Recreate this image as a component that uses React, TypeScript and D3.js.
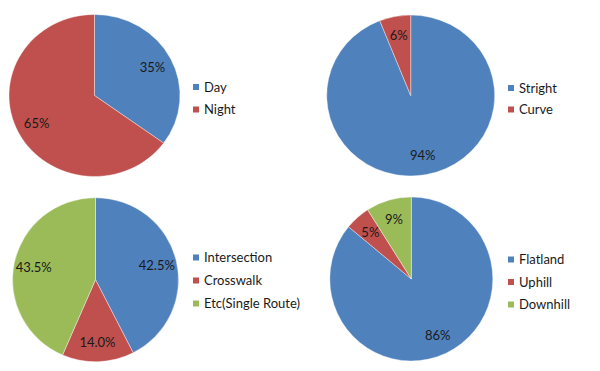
import * as d3 from 'd3'

// ── data ─────────────────────────────────────────────────────────────────────
const timeCats   = ['Day', 'Night']
const timeVals   = [35, 65]
const roadCats   = ['Stright', 'Curve']
const roadVals   = [94, 6]
const placeCats  = ['Intersection', 'Crosswalk', 'Etc(Single Route)']
const placeVals  = [42.5, 14.0, 43.5]
const slopeCats  = ['Flatland', 'Uphill', 'Downhill']
const slopeVals  = [86, 5, 9]

// ── constants ────────────────────────────────────────────────────────────────
const W = 600
const H = 371
const COLORS = ['#4F81BD', '#C0504D', '#9BBB59']
const FONT = 'Lato, "Open Sans", sans-serif'

type PieSpec = {
  cats:   string[]
  vals:   number[]
  digits: number
  cx: number; cy: number; rx: number; ry: number
  lx: number; ly: number; lgap: number
}

const PIES: PieSpec[] = [
  { cats: timeCats,  vals: timeVals,  digits: 0, cx: 94.5,  cy: 95.5,  rx: 85.5, ry: 81,   lx: 193, ly: 87,  lgap: 22.5 },
  { cats: roadCats,  vals: roadVals,  digits: 0, cx: 410.7, cy: 95.5,  rx: 84,   ry: 80.5, lx: 508, ly: 88,  lgap: 21.5 },
  { cats: placeCats, vals: placeVals, digits: 1, cx: 95.5,  cy: 279.7, rx: 83,   ry: 82,   lx: 193, ly: 257.5, lgap: 23 },
  { cats: slopeCats, vals: slopeVals, digits: 0, cx: 411.3, cy: 279,   rx: 81.5, ry: 82,   lx: 508, ly: 259.5, lgap: 22.5 },
]

function Pie({ spec }: { spec: PieSpec }) {
  const R = 100
  const sx = spec.rx / R
  const sy = spec.ry / R
  const total = d3.sum(spec.vals)
  const arcs = d3.pie<number>().sort(null).value(d => d)(spec.vals)
  const arc = d3.arc<d3.PieArcDatum<number>>().innerRadius(0).outerRadius(R)
  const labelArc = d3.arc<d3.PieArcDatum<number>>().innerRadius(R * 0.76).outerRadius(R * 0.76)

  return (
    <g>
      <g transform={`translate(${spec.cx},${spec.cy}) scale(${sx},${sy})`}>
        {arcs.map((a, i) => (
          <path key={i} d={arc(a) ?? ''} fill={COLORS[i]} stroke="#fff" strokeWidth={0.6} strokeOpacity={0.8} />
        ))}
      </g>
      {arcs.map((a, i) => {
        const [x, y] = labelArc.centroid(a)
        return (
          <text key={i} x={spec.cx + x * sx} y={spec.cy + y * sy} dy="0.35em"
            textAnchor="middle" fontSize={13} fill="#1a1a1a" fontFamily={FONT}>
            {((a.value / total) * 100).toFixed(spec.digits)}%
          </text>
        )
      })}
      {spec.cats.map((c, i) => (
        <g key={c} transform={`translate(${spec.lx},${spec.ly + i * spec.lgap})`}>
          <rect x={0} y={-3} width={6} height={6} fill={COLORS[i]} />
          <text x={11} dy="0.35em" fontSize={13} fill="#1a1a1a" fontFamily={FONT}>{c}</text>
        </g>
      ))}
    </g>
  )
}

export default function App() {
  return (
    <svg width={W} height={H} viewBox={`0 0 ${W} ${H}`}
      style={{ position: 'absolute', left: 0, top: 0, background: '#fff' }}>
      <rect width={W} height={H} fill="#fff" />
      {PIES.map((p, i) => <Pie key={i} spec={p} />)}
    </svg>
  )
}
